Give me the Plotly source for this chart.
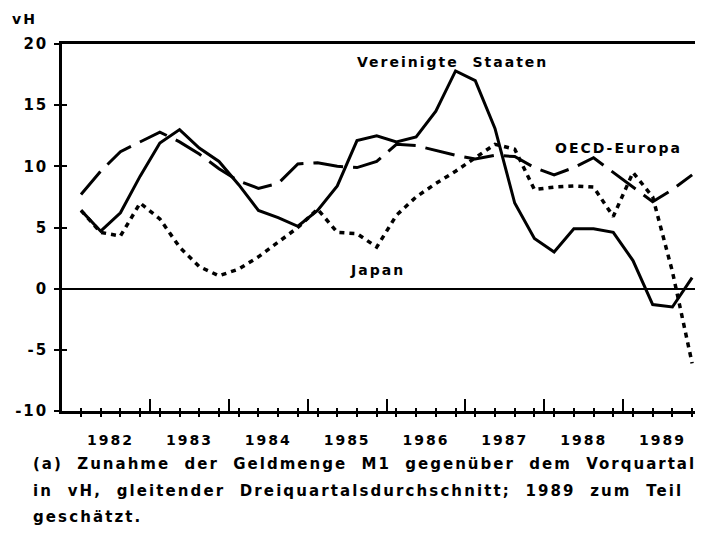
import plotly.graph_objects as go

# Quarterly data 1982Q1 .. 1989Q4 (vH)
years = [1982, 1983, 1984, 1985, 1986, 1987, 1988, 1989]
quarters = [y + (q - 0.5) / 4 for y in years for q in range(1, 5)]

us = [6.4, 4.7, 6.2, 9.2, 11.9, 13.0, 11.5, 10.4, 8.5, 6.4, 5.8, 5.1,
      6.4, 8.4, 12.1, 12.5, 12.0, 12.4, 14.5, 17.8, 17.0, 13.1, 7.0, 4.1,
      3.0, 4.9, 4.9, 4.6, 2.3, -1.3, -1.5, 0.9]
japan = [6.4, 4.6, 4.3, 7.0, 5.7, 3.4, 1.8, 1.05, 1.6, 2.6, 3.8, 5.0,
         6.5, 4.6, 4.5, 3.4, 6.0, 7.5, 8.6, 9.6, 10.7, 11.8, 11.4, 8.1,
         8.3, 8.4, 8.3, 5.9, 9.5, 7.5, 1.4, -6.1]
oecd = [7.7, 9.6, 11.2, 12.0, 12.8, 12.0, 11.0, 9.8, 8.8, 8.2, 8.6, 10.2,
        10.3, 10.0, 9.9, 10.4, 11.8, 11.7, 11.3, 10.9, 10.6, 10.9, 10.8, 9.9,
        9.3, 9.9, 10.7, 9.5, 8.3, 7.1, 8.1, 9.3]

year_labels = [str(y) for y in years]
y_ticks = [-10, -5, 0, 5, 10, 15, 20]

caption = [
    "(a) Zunahme der Geldmenge M1 gegenüber dem Vorquartal",
    "in vH, gleitender Dreiquartalsdurchschnitt; 1989 zum Teil",
    "geschätzt.",
]
caption_spacing = ["2px", "2.1px", "2.1px"]

FONT = dict(family="DejaVu Sans", size=14, color="black", weight="bold")
LS = 'letter-spacing:2px'


def sp(t, ls=LS):
    return f'<span style="{ls}">{t}</span>'


# page body has an 8px margin: compensate so the plot sits where the reference has it
OFF = 8
PL, PT, PB = 62, 44, 411          # plot left, top, bottom in window pixels
W, H = 703 - OFF, 533 - OFF
PW, PH = 703 - PL, PB - PT

xr = [1981.884, 1990.013]
yr = [-10, 20]

fig = go.Figure()
fig.add_trace(go.Scatter(x=quarters, y=oecd, mode="lines",
                         line=dict(color="black", width=3, dash="30px,10px"),
                         showlegend=False, hoverinfo="skip"))
fig.add_trace(go.Scatter(x=quarters, y=japan, mode="lines",
                         line=dict(color="black", width=3.5, dash="5px,5px"),
                         showlegend=False, hoverinfo="skip"))
fig.add_trace(go.Scatter(x=quarters, y=us, mode="lines",
                         line=dict(color="black", width=3),
                         showlegend=False, hoverinfo="skip"))
# invisible trace to activate overlay axes for crossing ticks
fig.add_trace(go.Scatter(x=quarters, y=us, xaxis="x2", yaxis="y2", mode="lines",
                         line=dict(width=0), opacity=0,
                         showlegend=False, hoverinfo="skip"))

fig.update_layout(
    width=W, height=H,
    margin=dict(l=PL - OFF, r=0, t=PT - OFF, b=H - (PB - OFF), pad=0),
    paper_bgcolor="white", plot_bgcolor="white",
    font=FONT,
    xaxis=dict(range=xr, showgrid=False, zeroline=False,
               showline=True, linewidth=2.5, linecolor="black", mirror=True,
               tickmode="array", tickvals=[y + 0.5 for y in years],
               ticktext=[sp(t) for t in year_labels], ticks="",
               ticklabelstandoff=14,
               minor=dict(tickmode="array", tickvals=quarters, ticks="outside",
                          ticklen=3, tickwidth=1.5, tickcolor="black"),
               tickfont=FONT),
    xaxis2=dict(range=xr, overlaying="x", anchor="y", side="bottom",
                showgrid=False, zeroline=False, showline=False,
                tickmode="array", tickvals=years[1:], ticks="inside",
                ticklen=12, tickwidth=1.5, tickcolor="black",
                showticklabels=False,
                minor=dict(tickmode="array", tickvals=quarters, ticks="inside",
                           ticklen=3, tickwidth=1.5, tickcolor="black")),
    yaxis=dict(range=yr, showgrid=False,
               zeroline=True, zerolinewidth=2, zerolinecolor="black",
               showline=True, linewidth=2.5, linecolor="black",
               tickmode="array", tickvals=y_ticks,
               ticktext=[sp(str(v)) for v in y_ticks],
               ticks="outside", ticklen=5, tickwidth=1.5, tickcolor="black",
               ticklabelstandoff=3,
               tickfont=dict(FONT, size=15)),
    yaxis2=dict(range=yr, overlaying="y", anchor="x", side="left",
                showgrid=False, zeroline=False, showline=False,
                tickmode="array", tickvals=y_ticks, ticks="inside",
                ticklen=5, tickwidth=1.5, tickcolor="black",
                showticklabels=False),
)

ann = [
    dict(text=sp("Vereinigte  Staaten"), x=1986.83, y=18.5, xref="x", yref="y"),
    dict(text=sp("OECD-Europa"), x=1988.935, y=11.5, xref="x", yref="y"),
    dict(text=sp("Japan"), x=1985.88, y=1.5, xref="x", yref="y"),
]
for a in ann:
    fig.add_annotation(showarrow=False, font=FONT, xanchor="center",
                       yanchor="middle", **a)

fig.add_annotation(text=sp("vH"), xref="paper", yref="paper",
                   x=(10 - PL) / PW, y=(PB - 19) / PH, xanchor="left",
                   yanchor="middle", showarrow=False, font=FONT)

cap_font = dict(FONT, size=15)
for i, line in enumerate(caption):
    fig.add_annotation(text=sp(line.replace(" ", "  "), "letter-spacing:" + caption_spacing[i]),
                       xref="paper", yref="paper",
                       x=(31 - PL) / PW, y=(PB - (464 + i * 26.5)) / PH,
                       xanchor="left", yanchor="middle", showarrow=False,
                       font=cap_font)

fig.write_html("out.html")
